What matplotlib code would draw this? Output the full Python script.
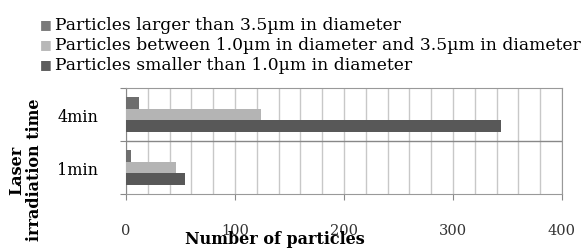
import matplotlib.pyplot as plt
import numpy as np

# données
categories = ["1min", "4min"]
series_names = ["Particles larger than 3.5\u00b5m in diameter",
                "Particles between 1.0\u00b5m in diameter and 3.5\u00b5m in diameter",
                "Particles smaller than 1.0\u00b5m in diameter"]
larger = [5, 12]
between = [46, 124]
smaller = [54, 344]
colors = ["#6e6e6e", "#b4b4b4", "#585858"]
legend_colors = ["#7a7a7a", "#b8b8b8", "#5c5c5c"]

plt.rcParams["font.family"] = ["DejaVu Serif"]

fig = plt.figure(figsize=(5.84, 2.51), dpi=100)
ax = fig.add_axes([126/584, 56/251, 436/584, 106/251])

y = np.arange(len(categories))
h = 0.22
ax.barh(y + h, larger, height=h, color=colors[0], zorder=3)
ax.barh(y, between, height=h, color=colors[1], zorder=3)
ax.barh(y - h, smaller, height=h, color=colors[2], zorder=3)

ax.set_xlim(0, 400)
ax.set_ylim(-0.5, 1.5)
ax.set_xticks([0, 100, 200, 300, 400])
ax.set_xticks(np.arange(0, 401, 20), minor=True)
ax.grid(True, which="both", axis="x", color="#c8c8c8", linewidth=1, zorder=0)
ax.set_yticks([-0.5, 0.5, 1.5])
ax.set_yticklabels([])
ax.set_yticks(y, minor=True)
ax.set_yticklabels(categories, minor=True, fontsize=11.5)
ax.tick_params(axis="y", which="minor", length=0, pad=20)
ax.tick_params(axis="y", which="major", length=4, color="#888888")
ax.tick_params(axis="x", which="major", length=4, color="#888888", pad=17, labelsize=10.5, labelcolor="#333333")
ax.tick_params(axis="x", which="minor", length=0)
ax.axhline(0.5, color="#888888", linewidth=1, zorder=2)
for s in ax.spines.values():
    s.set_color("#999999")
ax.spines["left"].set_color("#888888")

fig.text(275/584, 1 - 240/251, "Number of particles", ha="center", va="center",
         fontsize=11.5, fontweight="bold")
fig.text(26/584, 1 - 170/251, "Laser\nirradiation time", ha="center", va="center",
         rotation=90, fontsize=11.5, fontweight="bold", linespacing=1.05)

# légende
for i, (name, c) in enumerate(zip(series_names, legend_colors)):
    yy = 1 - (25 + 20*i)/251
    fig.text(46/584, yy, "\u25a0", color=c, ha="center", va="center", fontsize=9,
             family="DejaVu Sans")
    fig.text(55/584, yy, name, ha="left", va="center", fontsize=12.3)

fig.savefig("out.png", dpi=100)
